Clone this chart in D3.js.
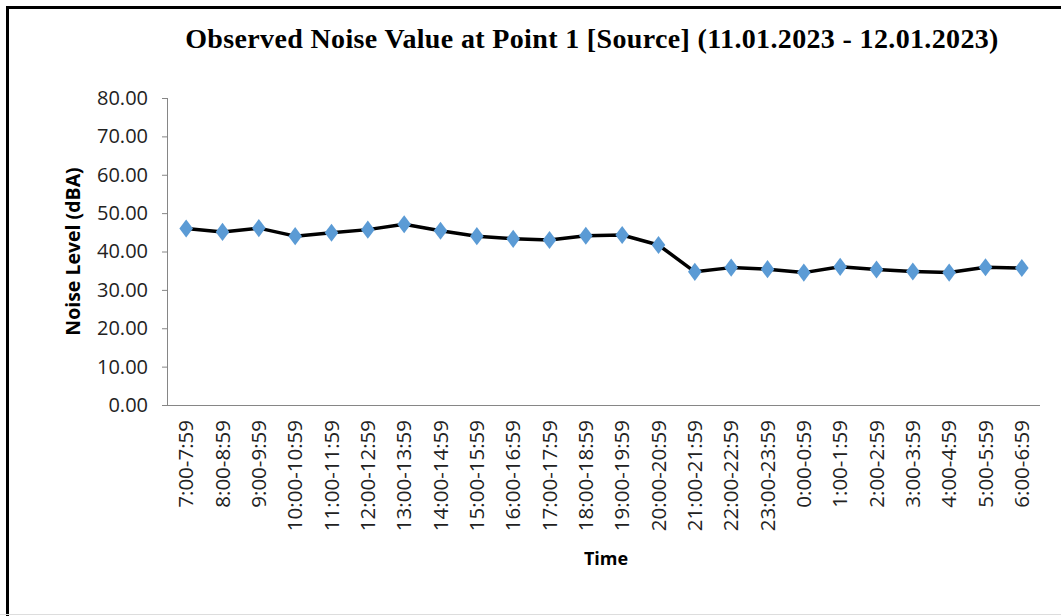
<!DOCTYPE html>
<html>
<head>
<meta charset="utf-8">
<script src="https://cdn.jsdelivr.net/npm/d3@7"></script>
<style>
  html, body { margin: 0; padding: 0; background: #fff; }
  svg { display: block; }
</style>
</head>
<body>
<div id="chart"></div>
<script>
const timeSlots = [
  "7:00-7:59", "8:00-8:59", "9:00-9:59", "10:00-10:59", "11:00-11:59", "12:00-12:59",
  "13:00-13:59", "14:00-14:59", "15:00-15:59", "16:00-16:59", "17:00-17:59", "18:00-18:59",
  "19:00-19:59", "20:00-20:59", "21:00-21:59", "22:00-22:59", "23:00-23:59", "0:00-0:59",
  "1:00-1:59", "2:00-2:59", "3:00-3:59", "4:00-4:59", "5:00-5:59", "6:00-6:59"
];
const noiseValues = [
  46.0, 45.1, 46.1, 44.0, 44.9, 45.7, 47.1, 45.4, 44.0, 43.3, 43.0, 44.1,
  44.3, 41.7, 34.7, 35.8, 35.4, 34.5, 36.0, 35.3, 34.8, 34.5, 35.9, 35.7
];
const yTicks = [0, 10, 20, 30, 40, 50, 60, 70, 80];

const width = 1061, height = 616;
const margin = { left: 168, right: 21, top: 98, bottom: 211 };
const sans = "'Open Sans', 'DejaVu Sans', sans-serif";

const svg = d3.select("#chart").append("svg")
  .attr("width", width)
  .attr("height", height);

// frame (only top and left edges fall inside the picture)
svg.append("rect")
  .attr("x", 7.5).attr("y", 7.5)
  .attr("width", width + 20).attr("height", height + 20)
  .attr("fill", "none")
  .attr("stroke", "#000")
  .attr("stroke-width", 3);

svg.append("line")
  .attr("x1", 0).attr("x2", width)
  .attr("y1", 614.5).attr("y2", 614.5)
  .attr("stroke", "#ddd");

const x = d3.scaleBand()
  .domain(timeSlots)
  .range([margin.left, width - margin.right]);

const y = d3.scaleLinear()
  .domain([0, 80])
  .range([height - margin.bottom, margin.top]);

// title
svg.append("text")
  .attr("x", 592).attr("y", 48)
  .attr("text-anchor", "middle")
  .style("font-family", "'Liberation Serif', 'Times New Roman', serif")
  .style("font-weight", "bold")
  .style("font-size", "28px")
  .style("letter-spacing", "0.35px")
  .text("Observed Noise Value at Point 1 [Source] (11.01.2023 - 12.01.2023)");

// y axis
const yAxis = svg.append("g")
  .attr("transform", `translate(${margin.left},0)`)
  .call(d3.axisLeft(y).tickValues(yTicks).tickFormat(d3.format(".2f")).tickSize(6).tickPadding(14));
yAxis.select(".domain").attr("stroke", "#868686").attr("d", `M-0.5,${y(80)}V${y(0) + 0.5}`);
yAxis.selectAll(".tick line").attr("stroke", "#868686");
yAxis.selectAll(".tick text")
  .attr("fill", "#222")
  .style("font-family", sans)
  .style("font-size", "20px");

// x axis
const xAxis = svg.append("g")
  .attr("transform", `translate(0,${y(0)})`)
  .call(d3.axisBottom(x).tickSize(0).tickPadding(0));
xAxis.select(".domain").attr("stroke", "#868686").attr("d", `M${margin.left - 6},0.5H${width - margin.right}`);
xAxis.selectAll(".tick text")
  .attr("transform", "rotate(-90)")
  .attr("text-anchor", "end")
  .attr("x", -15)
  .attr("y", 0)
  .attr("dy", "0.35em")
  .attr("fill", "#222")
  .style("font-family", sans)
  .style("font-size", "20.5px");

// axis titles
svg.append("text")
  .attr("transform", `translate(80,${(y(0) + y(80)) / 2}) rotate(-90)`)
  .attr("text-anchor", "middle")
  .style("font-family", sans)
  .style("font-weight", "bold")
  .style("font-size", "19.5px")
  .text("Noise Level (dBA)");

svg.append("text")
  .attr("x", 606).attr("y", 565)
  .attr("text-anchor", "middle")
  .style("font-family", sans)
  .style("font-weight", "bold")
  .style("font-size", "18px")
  .text("Time");

// line + markers
const cx = (d, i) => x(timeSlots[i]) + x.bandwidth() / 2;
const line = d3.line()
  .x((d, i) => cx(d, i))
  .y(d => y(d));

svg.append("path")
  .datum(noiseValues)
  .attr("d", line)
  .attr("fill", "none")
  .attr("stroke", "#000")
  .attr("stroke-width", 3.5)
  .attr("stroke-linejoin", "round");

svg.append("g")
  .selectAll("path")
  .data(noiseValues)
  .join("path")
  .attr("d", d3.symbol(d3.symbolDiamond, 95))
  .attr("transform", (d, i) => `translate(${cx(d, i)},${y(d)}) scale(1.3,1)`)
  .attr("fill", "#5B9BD5");
</script>
</body>
</html>
